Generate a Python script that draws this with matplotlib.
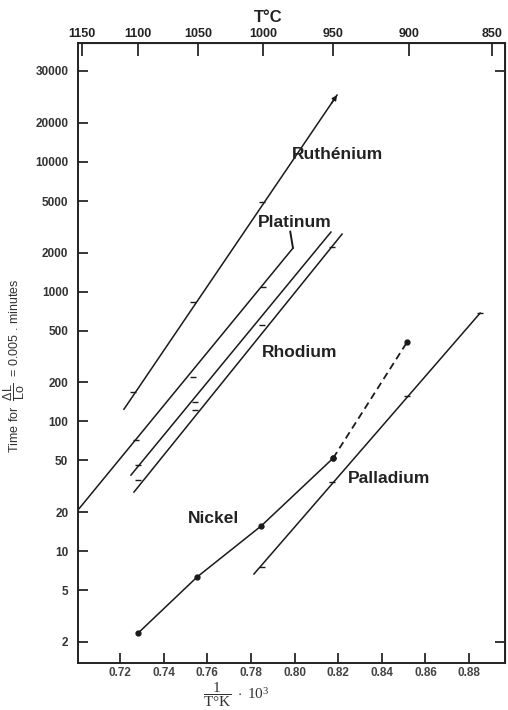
import matplotlib.pyplot as plt
import numpy as np

plt.rcParams['font.family'] = ['Liberation Sans', 'DejaVu Sans']
plt.rcParams['mathtext.fontset'] = 'custom'
plt.rcParams['mathtext.rm'] = 'Liberation Serif'
plt.rcParams['mathtext.it'] = 'Liberation Serif:italic'
plt.rcParams['mathtext.sf'] = 'Liberation Sans'

# 1/T(K) * 10^3  vs  time (minutes)
ru_x = [0.7218, 0.8195]
ru_y = [124, 32800]
ru_mx = [0.7260, 0.7535, 0.7851]
ru_my = [168, 832, 4910]

pt_x = [0.7007, 0.7993]
pt_y = [20.7, 2168]
pt_mx = [0.7273, 0.7535, 0.7856]
pt_my = [71.8, 220, 1084]

rhA_x = [0.7250, 0.8167]
rhA_y = [38.5, 2882]
rhA_mx = [0.7283, 0.7544, 0.7851]
rhA_my = [46, 141, 552]

rhB_x = [0.7264, 0.8218]
rhB_y = [28.5, 2780]
rhB_mx = [0.7283, 0.7544, 0.8172]
rhB_my = [35, 122, 2208]

ni_x = [0.7283, 0.7553, 0.7847, 0.8177]
ni_y = [2.33, 6.3, 15.6, 52]
ni_dash_x = [0.8177, 0.8516]
ni_dash_y = [52, 408]

pd_x = [0.7814, 0.8851]
pd_y = [6.65, 684]
pd_mx = [0.7851, 0.8172, 0.8516, 0.8851]
pd_my = [7.5, 34, 157, 684]

y_ticks = [2, 5, 10, 20, 50, 100, 200, 500, 1000, 2000, 5000, 10000, 20000, 50400]
y_labels = ['2', '5', '10', '20', '50', '100', '200', '500', '1000', '2000',
            '5000', '10000', '20000', '30000']
x_ticks = [0.72, 0.74, 0.76, 0.78, 0.80, 0.82, 0.84, 0.86, 0.88]
t_ticks = [1150, 1100, 1050, 1000, 950, 900, 850]

fig = plt.figure(figsize=(5.08, 7.10), dpi=100)
ax = fig.add_axes([78/508, 47/710, 427/508, 620/710])
ax.set_yscale('log')
ax.set_xlim(0.70074, 0.8965)
ax.set_ylim(1.37, 82700)

lc = '#1a1a1a'
lw = 1.1
ax.plot(ru_x, ru_y, color=lc, lw=lw)
ax.plot(ru_mx, ru_my, ls='none', marker='_', ms=5, color=lc, mew=1)
# arrow head at the top of the ruthenium line
ax.annotate('', xy=(ru_x[1], ru_y[1]), xytext=(-4, -5.9), textcoords='offset points',
            arrowprops=dict(arrowstyle='-|>', color=lc, lw=lw, mutation_scale=7,
                            shrinkA=0, shrinkB=0))

ax.plot(pt_x, pt_y, color=lc, lw=lw)
ax.plot(pt_mx, pt_my, ls='none', marker='_', ms=5, color=lc, mew=1)
ax.annotate('', xy=(pt_x[1], pt_y[1]), xytext=(-2, 12), textcoords='offset points',
            arrowprops=dict(arrowstyle='-', color=lc, lw=1.4, shrinkA=0, shrinkB=0))

ax.plot(rhA_x, rhA_y, color=lc, lw=lw)
ax.plot(rhA_mx, rhA_my, ls='none', marker='_', ms=5, color=lc, mew=1)
ax.plot(rhB_x, rhB_y, color=lc, lw=lw)
ax.plot(rhB_mx, rhB_my, ls='none', marker='_', ms=5, color=lc, mew=1)

ax.plot(ni_x, ni_y, color=lc, lw=lw, marker='o', ms=3.5)
ax.plot(ni_dash_x, ni_dash_y, color=lc, lw=1.3, ls=(0, (4, 2.5)), marker='o', ms=3.5)

ax.plot(pd_x, pd_y, color=lc, lw=lw)
ax.plot(pd_mx, pd_my, ls='none', marker='_', ms=5, color=lc, mew=1)

# element labels
lab = dict(fontsize=12.5, fontweight='bold', color='#222222', va='center')
ax.text(0.7989, 11500, 'Ruthénium', **lab)
ax.text(0.7833, 3440, 'Platinum', **lab)
ax.text(0.7851, 342, 'Rhodium', **lab)
ax.text(0.7512, 17.9, 'Nickel', **lab)
ax.text(0.8245, 36.5, 'Palladium', **lab)

ax.set_xticks(x_ticks)
ax.set_xticklabels(['%.2f' % v for v in x_ticks])
ax.set_yticks(y_ticks)
ax.set_yticklabels(y_labels)
ax.minorticks_off()
ax.tick_params(axis='x', direction='in', length=7, width=1.1, pad=3,
               labelsize=8.5, labelcolor='#444444')
ax.tick_params(axis='y', direction='in', length=7, width=1.1, pad=7,
               labelsize=8.5, labelcolor='#333333')
for t in ax.get_yticklabels():
    t.set_fontweight('bold')
for t in ax.get_xticklabels():
    t.set_fontweight('bold')
for s in ax.spines.values():
    s.set_linewidth(1.4)
    s.set_color('#222222')

# top axis in degrees C
top = ax.secondary_xaxis('top', functions=(lambda x: 1000.0 / x - 273.0,
                                           lambda t: 1000.0 / (t + 273.0)))
top.set_xticks(t_ticks)
top.set_xticklabels([str(t) for t in t_ticks])
top.tick_params(direction='in', length=9, width=1.1, pad=2, labelsize=9,
                labelcolor='#222222')
for t in top.get_xticklabels():
    t.set_fontweight('bold')
fig.text(268/508, 1 - 17/710, 'T°C', fontsize=12, fontweight='bold',
         ha='center', va='center', color='#222222')

right = ax.secondary_yaxis('right')
right.set_yticks([y_ticks[0], y_ticks[-1]])
right.set_yticklabels(['', ''])
right.tick_params(direction='in', length=7, width=1.1)
right.minorticks_off()

ax.set_ylabel(r'Time for  $\dfrac{\mathsf{\Delta L}}{\mathsf{Lo}}$  = 0.005 . minutes',
              fontsize=9, color='#333333')
ax.yaxis.set_label_coords(-0.12, 0.48)
ax.set_xlabel(r'$\dfrac{1}{\mathrm{T°K}}\ \cdot\ 10^3$', fontsize=11, color='#333333')
ax.xaxis.set_label_coords(0.37, -0.028)

fig.savefig('out.png', dpi=100)
